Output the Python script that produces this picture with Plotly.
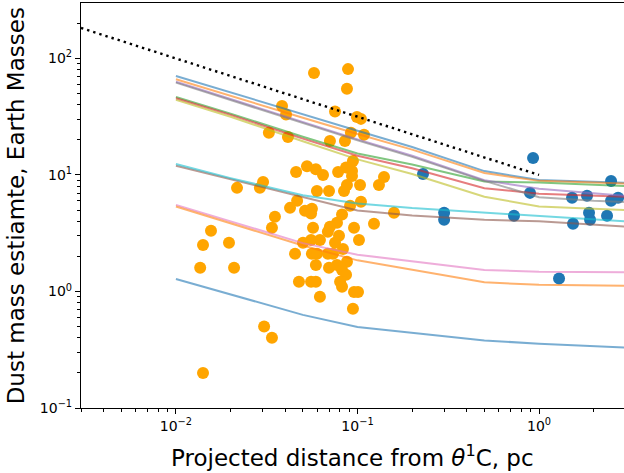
import plotly.graph_objects as go

# ---- observed points ----
orange_x = [0.0576, 0.0887, 0.0875, 0.0384, 0.0404, 0.0752, 0.0993, 0.1045, 0.0325, 0.0414,
            0.0705, 0.0853, 0.0920, 0.1086, 0.0944, 0.0459, 0.0527, 0.0590, 0.0646, 0.0782,
            0.0865, 0.0933, 0.0933, 0.1400, 0.1313, 0.1033, 0.0875, 0.0302, 0.0290, 0.0217,
            0.0598, 0.0697, 0.0843, 0.0465, 0.0425, 0.0514, 0.0561, 0.0555, 0.0910, 0.1045,
            0.0822, 0.1589, 0.1233, 0.0957, 0.0771, 0.0705, 0.0569, 0.0687, 0.0791, 0.1019,
            0.0621, 0.0555, 0.0501, 0.0752, 0.0832, 0.0453, 0.0561, 0.0598, 0.0687, 0.0733,
            0.0590, 0.0771, 0.0875, 0.0697, 0.0822, 0.0865, 0.0476, 0.0555, 0.0590, 0.0802,
            0.0822, 0.0957, 0.1007, 0.0621, 0.0944, 0.0351, 0.0338, 0.0156, 0.0141, 0.0196,
            0.0136, 0.0209, 0.0306, 0.0338, 0.0141]
orange_y = [75.0, 81.0, 55.0, 39.0, 33.0, 35.0, 31.5, 30.3, 23.0, 21.2,
            19.6, 19.6, 23.0, 22.1, 13.2, 10.6, 11.9, 11.2, 9.98, 10.6,
            11.6, 10.8, 9.8, 9.6, 8.2, 8.2, 8.2, 8.7, 7.75, 7.75,
            7.3, 7.3, 7.3, 6.0, 5.22, 4.93, 5.13, 4.66, 5.44, 5.89,
            4.58, 4.74, 3.81, 3.52, 3.89, 3.59, 3.52, 3.25, 3.01, 2.77,
            2.77, 2.77, 2.62, 2.62, 2.32, 2.11, 2.11, 2.11, 2.11, 2.11,
            1.69, 1.69, 1.80, 1.60, 1.53, 1.39, 1.21, 1.21, 1.21, 1.21,
            1.10, 0.99, 0.99, 0.90, 0.71, 4.37, 3.52, 3.32, 2.51, 2.62,
            1.60, 1.60, 0.50, 0.40, 0.20]

blue_x = [0.2296, 0.927, 0.892, 1.520, 1.838, 2.493, 2.493, 2.725, 0.300, 0.300,
          0.728, 1.885, 1.910, 1.539, 2.369, 1.289]
blue_y = [10.2, 14.0, 7.02, 6.37, 6.62, 8.89, 6.01, 6.37, 4.74, 4.12,
          4.46, 4.74, 4.12, 3.81, 4.46, 1.29]

# ---- model curves ----
model_x = [0.01, 0.02, 0.05, 0.1, 0.2, 0.5, 1.0, 2.0, 3.0]
model_blue1 = [70.8, 51.0, 33.0, 24.0, 17.4, 10.8, 9.05, 8.7, 8.55]
model_orange1 = [66.3, 47.5, 31.0, 22.5, 16.5, 10.4, 8.9, 8.6, 8.45]
model_green = [46.7, 33.6, 21.3, 15.3, 12.3, 8.8, 8.6, 8.2, 8.05]
model_red = [45.6, 32.8, 20.5, 14.6, 11.4, 7.7, 6.9, 6.6, 6.5]
model_purple = [63.2, 44.7, 28.5, 20.2, 14.6, 9.0, 7.6, 6.9, 6.6]
model_brown = [12.0, 9.2, 6.4, 4.95, 4.5, 4.12, 4.0, 3.75, 3.6]
model_pink = [5.54, 4.0, 2.6, 2.07, 1.82, 1.53, 1.48, 1.46, 1.46]
model_gray = [62.0, 44.0, 28.0, 19.8, 14.3, 8.9, 6.45, 6.0, 5.85]
model_olive = [44.1, 31.6, 19.5, 13.6, 10.2, 6.5, 5.36, 5.1, 5.0]
model_cyan = [12.4, 9.4, 6.7, 5.7, 5.2, 4.75, 4.5, 4.15, 4.0]
model_blue2 = [1.28, 0.94, 0.63, 0.495, 0.44, 0.38, 0.356, 0.34, 0.33]
model_orange2 = [5.36, 3.85, 2.48, 1.85, 1.53, 1.2, 1.14, 1.12, 1.12]

models = [model_blue1, model_orange1, model_green, model_red, model_purple, model_brown,
          model_pink, model_gray, model_olive, model_cyan, model_blue2, model_orange2]
tab10 = [(31, 119, 180), (255, 127, 14), (44, 160, 44), (214, 39, 40), (148, 103, 189),
         (140, 86, 75), (227, 119, 194), (127, 127, 127), (188, 189, 34), (23, 190, 207)]

limit_x = [0.003, 1.0]
limit_y = [182.6, 10.0]

x_tickvals = [0.01, 0.1, 1.0]
x_ticktext = ["10<sup>−2</sup>", "10<sup>−1</sup>", "10<sup>0</sup>"]
y_tickvals = [0.1, 1.0, 10.0, 100.0]
y_ticktext = ["10<sup>−1</sup>", "10<sup>0</sup>", "10<sup>1</sup>", "10<sup>2</sup>"]

x_minor = [m * 10.0 ** e for e in (-3, -2, -1, 0) for m in range(2, 10)]
y_minor = [m * 10.0 ** e for e in (-1, 0, 1, 2) for m in range(2, 10)]

fig = go.Figure()
fig.add_trace(go.Scatter(x=orange_x, y=orange_y, mode="markers",
                         marker=dict(color="#FFA500", size=12, line=dict(width=0)),
                         showlegend=False))
fig.add_trace(go.Scatter(x=blue_x, y=blue_y, mode="markers",
                         marker=dict(color="#1f77b4", size=12, line=dict(width=0)),
                         showlegend=False))
for i, m in enumerate(models):
    r, g, b = tab10[i % 10]
    fig.add_trace(go.Scatter(x=model_x, y=m, mode="lines",
                             line=dict(color=f"rgba({r},{g},{b},0.6)", width=2),
                             showlegend=False))
fig.add_trace(go.Scatter(x=limit_x, y=limit_y, mode="lines",
                         line=dict(color="black", width=2.4, dash="2.4px,4px"),
                         showlegend=False))

font = "DejaVu Sans, sans-serif"
fig.update_layout(
    width=624, height=473,
    margin=dict(l=81, r=0, t=3, b=65),
    paper_bgcolor="white", plot_bgcolor="white",
    font=dict(family=font, color="black", size=14),
    showlegend=False,
    annotations=[
        dict(text="Projected distance from <i>θ</i><sup>1</sup>C, pc", xref="paper", yref="paper",
             x=0.5, y=-0.118, xanchor="center", yanchor="middle", showarrow=False,
             font=dict(family=font, size=23, color="black")),
        dict(text="Dust mass estiamte, Earth Masses", xref="paper", yref="paper",
             x=-0.12, y=0.5, xanchor="center", yanchor="middle", textangle=-90,
             showarrow=False, font=dict(family=font, size=23, color="black")),
    ],
)
fig.update_xaxes(type="log", range=[-2.5229, 0.468], showgrid=False, zeroline=False,
                 showline=True, linecolor="black", linewidth=1.2, mirror=True,
                 ticks="outside", ticklen=5, tickwidth=1, tickcolor="black",
                 tickmode="array", tickvals=x_tickvals, ticktext=x_ticktext,
                 tickfont=dict(family=font, size=14, color="black"),
                 minor=dict(tickmode="array", tickvals=x_minor, ticks="outside",
                            ticklen=3, tickwidth=0.8, tickcolor="black", showgrid=False))
fig.update_yaxes(type="log", range=[-1, 2.476], showgrid=False, zeroline=False,
                 showline=True, linecolor="black", linewidth=1.2,
                 ticks="outside", ticklen=5, tickwidth=1, tickcolor="black",
                 tickmode="array", tickvals=y_tickvals, ticktext=y_ticktext,
                 tickfont=dict(family=font, size=14, color="black"),
                 minor=dict(tickmode="array", tickvals=y_minor, ticks="outside",
                            ticklen=3, tickwidth=0.8, tickcolor="black", showgrid=False))

fig.write_html("out.html")
